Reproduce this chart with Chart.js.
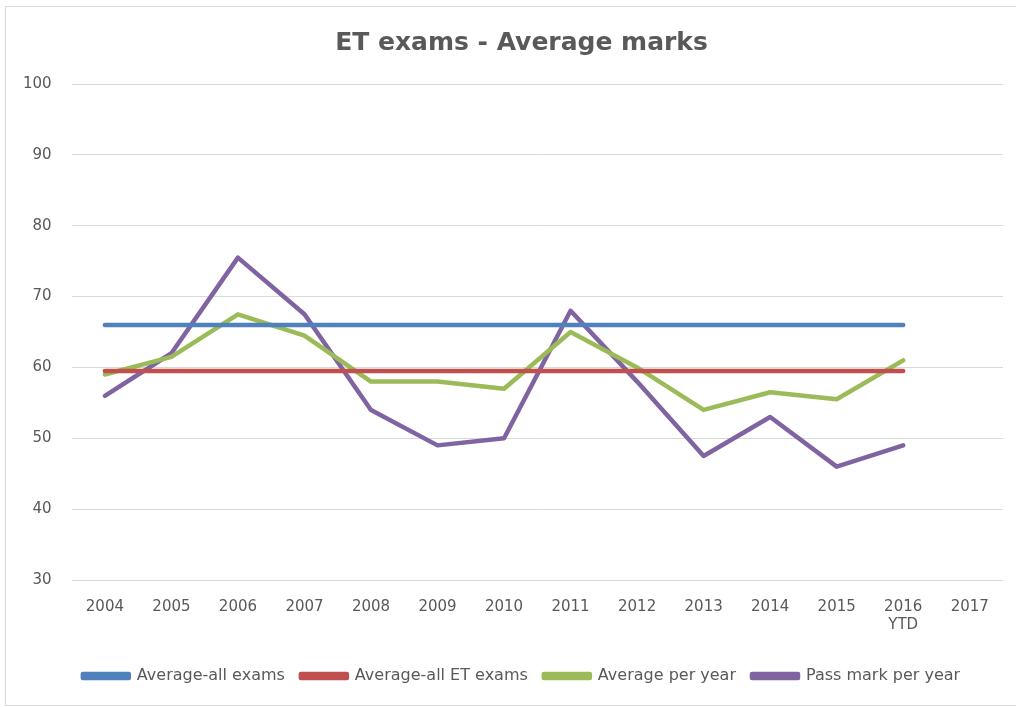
<!DOCTYPE html>
<html>
<head>
<meta charset="utf-8">
<title>ET exams - Average marks</title>
<script src="https://cdn.jsdelivr.net/npm/chart.js@4/dist/chart.umd.min.js"></script>
<style>
  body { margin: 0; background: #fff; }
  #wrap { position: relative; width: 1016px; height: 707px; }
  #frame {
    position: absolute; left: 5px; top: 6px; width: 1012px; height: 698px;
    border: 1px solid #d9d9d9; pointer-events: none;
  }
</style>
</head>
<body>
<div id="wrap">
  <canvas id="chart" width="1016" height="707"></canvas>
  <div id="frame"></div>
</div>
<script>
const years = ["2004", "2005", "2006", "2007", "2008", "2009", "2010", "2011", "2012", "2013", "2014", "2015", ["2016", "YTD"], "2017"];
const avgAllExams = [66, 66, 66, 66, 66, 66, 66, 66, 66, 66, 66, 66, 66, null];
const avgAllEtExams = [59.5, 59.5, 59.5, 59.5, 59.5, 59.5, 59.5, 59.5, 59.5, 59.5, 59.5, 59.5, 59.5, null];
const avgPerYear = [59, 61.5, 67.5, 64.5, 58, 58, 57, 65, 60, 54, 56.5, 55.5, 61, null];
const passMark = [56, 62, 75.5, 67.5, 54, 49, 50, 68, 58, 47.5, 53, 46, 49, null];

const textColor = "#595959";
const fontFamily = "'DejaVu Sans', Verdana, sans-serif";

function line(label, data, color) {
  return {
    label: label,
    data: data,
    borderColor: color,
    backgroundColor: color,
    borderWidth: 4.5,
    pointRadius: 0,
    pointHoverRadius: 0,
    tension: 0,
    borderCapStyle: "round",
    borderJoinStyle: "round",
    spanGaps: false
  };
}

const ctx = document.getElementById("chart").getContext("2d");
new Chart(ctx, {
  type: "line",
  data: {
    labels: years,
    datasets: [
      line("Average-all exams", avgAllExams, "#4f81bd"),
      line("Average-all ET exams", avgAllEtExams, "#c0504d"),
      line("Average per year", avgPerYear, "#9bbb59"),
      line("Pass mark per year", passMark, "#8064a2")
    ]
  },
  options: {
    responsive: false,
    animation: false,
    // the original chart box is wider than the picture, so title and legend sit a bit right of centre
    layout: { padding: { left: 3, right: -24, top: 24, bottom: 13 } },
    plugins: {
      title: {
        display: true,
        text: "ET exams - Average marks",
        color: textColor,
        font: { family: fontFamily, size: 25, weight: "bold" },
        padding: { top: 4, bottom: 26 }
      },
      legend: {
        position: "bottom",
        labels: {
          color: textColor,
          font: { family: fontFamily, size: 16 },
          boxWidth: 46,
          boxHeight: 4,
          padding: 16
        }
      },
      tooltip: { enabled: false }
    },
    scales: {
      x: {
        offset: true,
        grid: { display: false, drawTicks: false },
        border: { display: false },
        ticks: {
          color: textColor,
          font: { family: fontFamily, size: 15 },
          padding: 18,
          maxRotation: 0,
          autoSkip: false
        }
      },
      y: {
        min: 30,
        max: 100,
        grid: { color: "#d9d9d9", lineWidth: 1, drawTicks: false },
        border: { display: false },
        ticks: {
          stepSize: 10,
          color: textColor,
          font: { family: fontFamily, size: 15 },
          padding: 20
        }
      },
      yRight: {
        position: "right",
        min: 30,
        max: 100,
        grid: { display: false, drawTicks: false },
        border: { display: false },
        ticks: { display: false },
        afterFit(scale) { scale.width = 37; }
      }
    }
  }
});
</script>
</body>
</html>
